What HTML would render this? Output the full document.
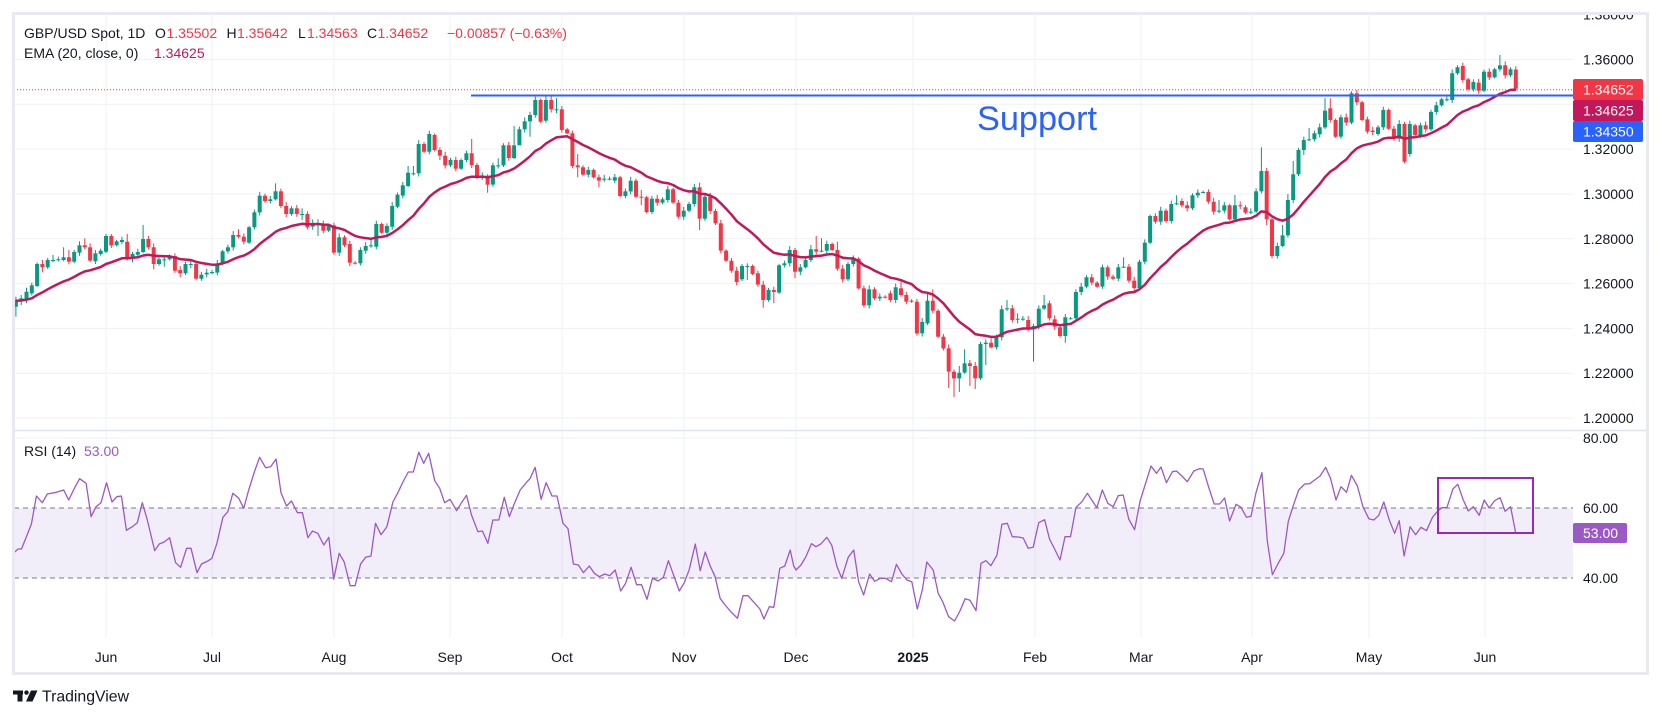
<!DOCTYPE html>
<html>
<head>
<meta charset="utf-8">
<style>
html,body{margin:0;padding:0;background:#ffffff;}
svg{display:block;font-family:"Liberation Sans",Arial,sans-serif;}
.ax{font-size:14px;fill:#131722;}
.tl{font-size:14px;fill:#131722;text-anchor:middle;}
</style>
</head>
<body>
<svg width="1661" height="718" viewBox="0 0 1661 718">
<defs>
<clipPath id="cp"><rect x="14" y="15" width="1559" height="415"/></clipPath>
<clipPath id="cr"><rect x="14" y="431" width="1559" height="207"/></clipPath>
<clipPath id="ca"><rect x="1573" y="15" width="74" height="415"/></clipPath>
</defs>
<rect x="0" y="0" width="1661" height="718" fill="#ffffff"/>

<g stroke="#eff1f5" stroke-width="1">
<line x1="14" y1="418" x2="1573" y2="418"/>
<line x1="14" y1="373.2" x2="1573" y2="373.2"/>
<line x1="14" y1="328.4" x2="1573" y2="328.4"/>
<line x1="14" y1="283.6" x2="1573" y2="283.6"/>
<line x1="14" y1="238.8" x2="1573" y2="238.8"/>
<line x1="14" y1="194" x2="1573" y2="194"/>
<line x1="14" y1="149.1" x2="1573" y2="149.1"/>
<line x1="14" y1="104.3" x2="1573" y2="104.3"/>
<line x1="14" y1="59.5" x2="1573" y2="59.5"/>
<line x1="14" y1="438" x2="1573" y2="438"/>
</g>
<g stroke="#eff1f5" stroke-width="1">
<line x1="106" y1="15" x2="106" y2="638"/>
<line x1="212" y1="15" x2="212" y2="638"/>
<line x1="334" y1="15" x2="334" y2="638"/>
<line x1="450" y1="15" x2="450" y2="638"/>
<line x1="562" y1="15" x2="562" y2="638"/>
<line x1="684" y1="15" x2="684" y2="638"/>
<line x1="796" y1="15" x2="796" y2="638"/>
<line x1="913" y1="15" x2="913" y2="638"/>
<line x1="1035" y1="15" x2="1035" y2="638"/>
<line x1="1141" y1="15" x2="1141" y2="638"/>
<line x1="1252" y1="15" x2="1252" y2="638"/>
<line x1="1369" y1="15" x2="1369" y2="638"/>
<line x1="1485" y1="15" x2="1485" y2="638"/>
</g>

<rect x="14" y="508" width="1559" height="70" fill="#7e57c2" fill-opacity="0.1"/>
<line x1="14" y1="508" x2="1573" y2="508" stroke="#787b86" stroke-width="1" stroke-dasharray="5,4"/>
<line x1="14" y1="578" x2="1573" y2="578" stroke="#787b86" stroke-width="1" stroke-dasharray="5,4"/>

<line x1="14" y1="89.7" x2="1573" y2="89.7" stroke="#f23645" stroke-width="1" stroke-dasharray="1,2"/>

<g id="cd" clip-path="url(#cp)"></g>
<g clip-path="url(#cp)"><polyline id="ema" fill="none" stroke="#c2185b" stroke-width="2.5" stroke-linejoin="round" points=""/></g>

<line x1="471" y1="95.5" x2="1573" y2="95.5" stroke="#2962ff" stroke-width="2"/>
<text x="977" y="130" font-size="34" fill="#2962ff" textLength="120" lengthAdjust="spacingAndGlyphs">Support</text>

<g clip-path="url(#cr)"><polyline id="rsi" fill="none" stroke="#9b59c6" stroke-width="1.3" stroke-linejoin="round" points=""/></g>

<rect x="1438" y="478" width="95" height="55" fill="none" stroke="#9c27b0" stroke-width="2"/>

<line x1="14" y1="430.5" x2="1647" y2="430.5" stroke="#e0e3eb" stroke-width="1.5"/>

<g class="ax" clip-path="url(#ca)">
<text x="1583" y="19.7">1.38000</text>
<text x="1583" y="64.5">1.36000</text>
<text x="1583" y="109.3">1.34000</text>
<text x="1583" y="154.1">1.32000</text>
<text x="1583" y="199">1.30000</text>
<text x="1583" y="243.8">1.28000</text>
<text x="1583" y="288.6">1.26000</text>
<text x="1583" y="333.4">1.24000</text>
<text x="1583" y="378.2">1.22000</text>
<text x="1583" y="423">1.20000</text>
</g>
<rect x="1573" y="79" width="70" height="21" rx="2" fill="#f23645"/>
<rect x="1573" y="100" width="70" height="21" rx="2" fill="#c2185b"/>
<rect x="1573" y="121" width="70" height="21" rx="2" fill="#2962ff"/>
<g font-size="14" fill="#ffffff">
<text x="1583" y="94.5">1.34652</text>
<text x="1583" y="115.5">1.34625</text>
<text x="1583" y="136.5">1.34350</text>
</g>

<g class="ax">
<text x="1583" y="443">80.00</text>
<text x="1583" y="513">60.00</text>
<text x="1583" y="583">40.00</text>
</g>
<rect x="1573" y="523" width="54" height="20" rx="2" fill="#9b59c6"/>
<text x="1583" y="538" font-size="14" fill="#ffffff">53.00</text>

<text x="24" y="38" font-size="14" fill="#131722">GBP/USD Spot, 1D</text>
<text x="155" y="38" font-size="14" fill="#131722">O</text>
<text x="166.5" y="38" font-size="14" fill="#f23645">1.35502</text>
<text x="226.5" y="38" font-size="14" fill="#131722">H</text>
<text x="237" y="38" font-size="14" fill="#f23645">1.35642</text>
<text x="298" y="38" font-size="14" fill="#131722">L</text>
<text x="307" y="38" font-size="14" fill="#f23645">1.34563</text>
<text x="367" y="38" font-size="14" fill="#131722">C</text>
<text x="377.5" y="38" font-size="14" fill="#f23645">1.34652</text>
<text x="447" y="38" font-size="14" fill="#f23645">−0.00857 (−0.63%)</text>
<text x="24" y="58" font-size="14" fill="#131722">EMA (20, close, 0)</text>
<text x="154" y="58" font-size="14" fill="#c2185b">1.34625</text>
<text x="24" y="456" font-size="14" fill="#131722">RSI (14)</text>
<text x="84" y="456" font-size="14" fill="#9b59c6">53.00</text>

<text class="tl" x="106" y="662">Jun</text>
<text class="tl" x="212" y="662">Jul</text>
<text class="tl" x="334" y="662">Aug</text>
<text class="tl" x="450" y="662">Sep</text>
<text class="tl" x="562" y="662">Oct</text>
<text class="tl" x="684" y="662">Nov</text>
<text class="tl" x="796" y="662">Dec</text>
<text class="tl" x="913" y="662" font-weight="bold">2025</text>
<text class="tl" x="1035" y="662">Feb</text>
<text class="tl" x="1141" y="662">Mar</text>
<text class="tl" x="1252" y="662">Apr</text>
<text class="tl" x="1369" y="662">May</text>
<text class="tl" x="1485" y="662">Jun</text>

<rect x="13.5" y="13.5" width="1634" height="660" fill="none" stroke="#e9eaf0" stroke-width="3"/>

<g fill="#131722">
<rect x="13" y="690.5" width="10" height="4"/>
<rect x="17.5" y="690.5" width="5" height="11"/>
<circle cx="26.5" cy="692.6" r="2.2"/>
<polygon points="31,690.5 37.5,690.5 32.5,701.5 26,701.5"/>
</g>
<text x="42" y="701.5" font-size="16" fill="#131722" textLength="87" lengthAdjust="spacingAndGlyphs">TradingView</text>
</svg>

<script>
(function(){
var z7=[
[740,720,0,770],[720,715,705,735],[720,695,0,0],[700,676,0,0],[678,612,0,0],
[612,622,600,637],[622,600,0,0],[600,600,585,607],[598,598,0,0],[600,592,562,0],
[592,605,570,0],[605,576,0,0],[578,556,0,0],[556,562,535,0],[562,602,550,0],
[604,580,0,0],[582,572,0,0],[575,528,0,0],[528,556,522,0],[556,544,0,0],
[546,540,530,0],[545,592,522,0],[590,582,0,607],[584,576,0,0],[576,537,495,0],
[537,562,528,0],[562,612,0,628],[612,598,0,0],[598,598,585,620],[598,588,0,0],
[588,632,0,0],[630,640,0,652],[640,612,0,0],[612,612,600,625],[612,656,0,0],
[656,644,0,0],[643,638,0,0],[638,636,0,0],[638,610,0,0],[612,574,0,0],
[574,562,0,0],[562,525,0,0],[525,530,508,0],[530,545,0,0],[548,502,0,0],
[502,457,0,0],[457,407,0,0],[407,423,0,0],[423,418,0,0],[418,394,370,0],
[394,438,0,0],[438,462,0,0],[462,445,0,0],[445,462,0,470],[462,462,445,480],
[462,502,0,0],[500,490,0,0],[490,490,478,528],[492,512,0,0],[512,496,0,0],
[496,578,0,0],[578,532,0,0],[532,556,0,0],[552,608,0,618],[608,610,0,0],
[610,570,0,0],[572,558,0,0],[558,556,540,0],[560,492,0,0],[492,518,0,0],
[518,498,0,0],[500,438,0,0],[440,404,0,0],[407,376,0,0],[378,338,318,0],
[340,340,318,0],[340,252,0,0],[252,275,0,0],[275,222,0,0],[225,270,0,0],
[270,287,0,300],[287,316,0,0],[316,300,0,0],[300,326,0,0],[326,300,0,0],
[300,280,0,0],[280,315,237,0],[315,352,0,0],[352,347,0,0],[347,374,0,398],
[374,316,0,0],[316,316,295,0],[316,256,0,0],[256,294,0,0],[294,256,198,0],
[256,208,0,245],[208,184,0,0],[184,165,155,230]
];
var z8=[
[105,60,50,0],[60,125,0,0],[122,60,48,0],[60,88,0,0],[88,88,55,100],
[88,150,0,0],[148,160,0,0],[160,258,0,0],[256,262,222,292],[262,284,0,0],
[284,270,0,0],[270,292,0,0],[292,302,0,322],[296,296,0,0],[296,296,0,0],
[302,292,0,0],[292,348,0,0],[348,334,0,0],[334,302,0,0],[302,350,0,0],
[350,352,330,375],[352,396,0,0],[396,356,0,0],[356,368,0,0],[368,358,0,0],
[360,328,0,0],[328,368,0,0],[368,410,0,0],[410,392,0,0],[392,372,0,0],
[372,322,0,0],[322,416,308,450],[416,350,0,0],[350,393,0,0],[393,430,0,0],
[430,512,0,0],[512,542,0,0],[542,572,0,0],[572,606,0,0],[598,558,0,0],
[558,558,550,600],[558,582,0,0],[580,614,0,0],[614,660,0,683],[660,630,0,0],
[630,636,0,670],[638,556,0,0],[556,550,0,0],[550,510,0,0],[510,575,0,595],
[575,562,0,585],[562,540,0,0],[540,508,495,0],[508,515,468,0],[512,512,475,0],
[512,492,0,0],[492,510,0,0],[510,566,485,0],[566,598,0,0],[598,552,0,0],
[552,536,0,0],[536,625,0,0],[625,676,0,0],[676,628,0,0],[628,655,0,0],
[655,650,0,0],[650,652,0,0],[640,660,0,0],[660,622,0,0],[625,645,605,0],
[645,665,0,0],[662,665,0,0],[665,760,0,0],[760,726,0,0],[730,662,640,0],
[662,692,628,0],[692,770,0,0],[770,805,0,0],[805,875,0,924],[875,895,0,951],
[895,878,858,936],[878,850,808,0],[850,858,840,918],[858,895,0,927],[895,792,0,0],
[792,788,0,855],[788,802,775,0],[802,772,0,0],[772,688,0,0],[688,685,660,0],
[685,720,0,0],[716,716,700,730],[716,716,0,0],[720,745,0,0],[745,738,0,845],
[740,686,0,0],[686,676,645,0]
];
var z9=[
[790,835,0,0],[838,860,0,0],[862,888,0,0],[888,832,0,908],[835,835,0,0],
[835,756,0,0],[756,740,0,0],[740,712,0,0],[712,728,0,0],[728,740,0,0],
[740,682,0,0],[682,710,676,0],[710,716,0,0],[716,682,0,0],[680,680,652,0],
[680,722,0,0],[722,744,0,0],[744,665,0,0],[665,608,0,0],[608,528,0,0],
[528,545,0,0],[545,512,0,0],[512,543,0,0],[543,492,0,0],[492,490,466,0],
[483,496,0,0],[496,505,0,0],[505,466,0,0],[466,458,0,0],[456,456,0,0],
[456,485,0,0],[485,515,0,0],[515,512,480,0],[512,496,0,0],[496,538,0,0],
[538,496,465,0],[496,498,0,0],[502,518,0,0],[515,515,0,0],[515,454,445,0],
[454,393,322,0],[393,538,384,555],[538,648,0,655],[648,618,0,0],[618,586,555,0],
[586,480,462,0],[480,403,363,0],[403,330,0,0],[330,300,0,345],[300,298,264,0],
[298,280,0,0],[283,262,0,0],[262,212,175,0],[205,240,175,0],[240,290,0,0],
[290,232,0,0],[232,248,0,0],[248,160,0,0],[160,187,0,0],[187,240,0,0],
[238,275,0,0],[272,276,0,0],[282,262,0,0],[262,210,0,0],[210,266,0,0],
[266,296,0,0],[296,252,0,0],[252,365,0,0],[342,252,0,0],[256,285,0,0],
[288,256,0,0],[256,268,0,0],[268,216,0,0],[216,196,0,0],[196,178,0,0],
[178,178,0,0],[180,100,0,0],[100,82,0,0],[78,120,0,0],[118,148,0,0],
[148,126,0,0],[128,152,0,0],[152,95,0,0],[95,112,0,0],[112,88,0,0],
[88,76,45,0],[76,106,0,0],[106,88,0,0],[88.5,146,79,152]
];
function X(i){return 106+5.3*i;}
var all=[];
function add(arr,base,start){
  for(var k=0;k<arr.length;k++){
    var a=arr[k];
    all.push({i:start+k,o:base+a[0]/3,c:base+a[1]/3,
      h:a[2]?base+a[2]/3:null,l:a[3]?base+a[3]/3:null});
  }
}
add(z7,60,-17);add(z8,80,81);add(z9,40,178);
var s='';
for(var n=0;n<all.length;n++){
  var d=all[n];
  var x=X(d.i);
  var top=Math.min(d.o,d.c),bot=Math.max(d.o,d.c);
  var w=1.5+(Math.abs(d.i*37+11)%5)*0.6;
  var h=d.h!==null?d.h:top-w;
  var l=d.l!==null?d.l:bot+w*0.8;
  var col=d.c<=d.o?'#089981':'#f23645';
  s+='<line x1="'+x.toFixed(1)+'" y1="'+h.toFixed(1)+'" x2="'+x.toFixed(1)+'" y2="'+l.toFixed(1)+'" stroke="'+col+'" stroke-width="1"/>';
  s+='<rect x="'+(x-2).toFixed(1)+'" y="'+top.toFixed(1)+'" width="4" height="'+Math.max(1,bot-top).toFixed(1)+'" fill="'+col+'"/>';
}
document.getElementById('cd').innerHTML=s;

var e=300.7,pts=[];
for(var m=0;m<all.length;m++){
  if(m>0){e+= (2/21)*(all[m].c-e);}
  pts.push(X(all[m].i).toFixed(1)+','+e.toFixed(1));
}
document.getElementById('ema').setAttribute('points',pts.join(' '));

var r10=[0,338,8,327,15,327,25,290,35,252,45,168,57,188,67,162,85,157,100,150,110,180,122,143,132,116,145,130,155,230,165,200,175,188,186,128,197,186,207,170,216,168,226,271,238,260,248,248,258,188,268,240,283,332,292,312,302,306,313,293,325,368,335,382,347,325,356,325,368,398,377,372,390,363,398,355,408,310,420,232,430,215,440,160,452,175,462,205,472,150,484,93,494,52,506,83,516,80,527,57,537,158,548,198,558,183,570,218,580,218,591,293,600,273,611,280,623,315,633,292,643,418,654,340,664,366,676,437,686,437,697,372,707,352,718,348,727,250,738,284,750,260,762,186,772,158,782,126,793,96,803,96,814,37,824,70,834,40,846,122,856,145,866,188,877,178,890,212,900,188,910,166,920,225,933,275,942,273,953,310,963,240,975,240,986,172,996,230,1007,188,1018,150,1030,128,1038,115,1048,82,1060,178,1070,128,1082,168,1092,168,1104,250,1114,266,1125,372,1135,375,1145,398,1157,378,1167,400,1177,410,1188,402,1198,407,1209,390,1220,453,1230,430,1241,382,1252,434,1262,434,1273,478,1284,414,1295,423,1306,412,1316,362,1327,408,1338,453,1348,428,1358,388,1370,312,1380,392,1390,336,1400,378,1410,410,1420,475,1430,495,1442,516,1455,535,1466,467,1476,467,1488,487,1500,507,1508,537,1519,500,1528,502,1540,385,1550,378,1561,330,1568,378];
var r11=[0,372,5,390,15,375,25,350,36,311,45,320,55,312,67,292,77,316,87,378,97,415,110,352,121,330,131,425,141,465,153,402,163,424,175,415,185,415,197,425,207,373,218,402,228,420,238,425,249,507,259,450,268,366,281,390,291,460,300,485,312,530,324,543,334,515,345,476,355,481,367,512,377,370,387,362,397,377,409,346,419,253,430,250,440,290,452,291,462,294,472,325,482,322,493,248,505,239,515,298,525,327,536,360,546,290,557,290,568,203,580,185,591,160,601,183,610,203,621,150,632,190,643,200,653,167,663,165,674,237,686,269,697,183,708,130,719,78,730,100,739,81,750,128,762,95,770,93,781,108,792,125,805,93,816,86,824,87,835,142,846,192,857,192,867,174,877,243,890,193,900,202,911,232,920,229,930,158,942,98,953,305,963,404,974,372,986,340,995,244,1006,193,1016,150,1028,132,1038,131,1048,120,1059,108,1070,82,1080,115,1091,180,1101,140,1112,157,1122,106,1134,138,1145,200,1157,236,1167,240,1177,226,1187,186,1199,244,1209,280,1218,242,1228,348,1240,260,1251,284,1262,262,1273,272,1285,232,1295,214,1304,203,1314,203,1326,147,1336,133,1347,180,1357,213,1367,200,1379,226,1389,180,1399,204,1410,182,1421,173,1431,214,1442,200,1452,276];
var rp=[];
for(var a=0;a<r10.length;a+=2){rp.push((14+r10[a]/2.011).toFixed(1)+','+(440+r10[a+1]/3).toFixed(1));}
for(var b=2;b<r11.length;b+=2){rp.push((793.5+r11[b]/2.011).toFixed(1)+','+(440+r11[b+1]/3).toFixed(1));}
document.getElementById('rsi').setAttribute('points',rp.join(' '));
})();
</script>
</body>
</html>
